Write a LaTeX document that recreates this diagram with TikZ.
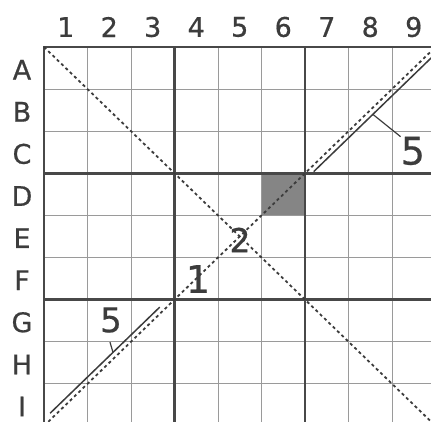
\documentclass[tikz,border=0pt]{standalone}
\usepackage{fontspec}
\setmainfont{DejaVu Sans}
\newfontfamily\labelfont{DejaVu Sans}[FakeBold=0.6]
\usetikzlibrary{calc}
\definecolor{inkgray}{HTML}{3C3C3C}
\definecolor{thingray}{HTML}{9A9A9A}
\definecolor{thickgray}{HTML}{484848}
\definecolor{cellgray}{HTML}{858585}
\tikzset{
    thinline/.style={draw=thingray,line width=0.9pt},
    thickline/.style={draw=thickgray,line width=2.6pt,line cap=rect},
    diagline/.style={draw=inkgray,line width=1.8pt,dash pattern=on 3pt off 3pt},
    sumline/.style={draw=inkgray,line width=1.5pt},
    leader/.style={draw=inkgray,line width=1.2pt},
    axislabel/.style={text=inkgray,inner sep=0pt,font=\labelfont\fontsize{27}{27}\selectfont},
    cluelabel/.style={text=inkgray,inner sep=0pt}
}

\begin{document}
\begin{tikzpicture}[x=43.5pt,y=-42.1pt]
  \useasboundingbox (-1.0115,-1.1164) rectangle (8.8966,8.9074);
  \clip (-1.0115,-1.1164) rectangle (8.8966,8.9074);

  %---------------- shaded cell D6 ----------------
            \fill[cellgray] (5,3) rectangle (6,4);

  %---------------- grid ----------------
            \foreach \i in {1,2,4,5,7,8}{
                \draw[thinline] (\i,0) -- (\i,9);
                \draw[thinline] (0,\i) -- (9,\i);
            }
            \foreach \i in {0,3,6,9}{
                \draw[thickline] (\i,0) -- (\i,9);
                \draw[thickline] (0,\i) -- (9,\i);
            }

  %---------------- labels 1..9 and A..I ----------------
            \foreach \c in {1,...,9}{
                \node[axislabel] (col\c) at (\c-0.5,-0.475) {\c};
            }
            \foreach \r/\l in {1/A,2/B,3/C,4/D,5/E,6/F,7/G,8/H,9/I}{
                \node[axislabel] (row\l) at (-0.506,\r-0.46) {\l};
            }

  %---------------- diagonals ----------------
            \draw[diagline] (0,0) -- (9,9);
            \draw[diagline] (0,9) -- (9,0);

  % cages along the anti-diagonal
            \coordinate (sumTopA) at (6.20,2.96);
            \coordinate (sumTopB) at (8.96,0.20);
            \draw[sumline] (sumTopA) -- (sumTopB);

            \coordinate (sumBotA) at (0.14,8.70);
            \coordinate (sumBotB) at (2.66,6.18);
            \draw[sumline] (sumBotA) -- (sumBotB);

  %---------------- clues ----------------
            \node[cluelabel,font=\labelfont\fontsize{38}{38}\selectfont] (fiveTop) at (8.48,2.47) {5};
            \coordinate (tipTop) at (7.56,1.60);
            \draw[leader] (tipTop) -- (fiveTop.north west);

            \node[cluelabel,font=\labelfont\fontsize{34}{34}\selectfont] (fiveBot) at (1.54,6.485) {5};
            \coordinate (tipBot) at (1.586,7.254);
            \coordinate (tickBot) at (1.517,7.01);
            \draw[leader] (tipBot) -- (tickBot);

            \node[cluelabel,font=\labelfont\fontsize{38}{38}\selectfont] (oneF) at (3.54,5.51) {1};
            \node[cluelabel,font=\labelfont\fontsize{33}{33}\selectfont] (twoE) at (4.506,4.584) {2};

\end{tikzpicture}
\end{document}
